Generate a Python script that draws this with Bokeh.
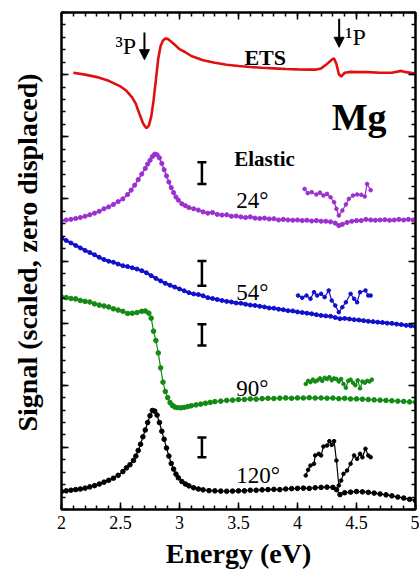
from bokeh.plotting import figure
from bokeh.layouts import row
from bokeh.models import (ColumnDataSource, LinearAxis, SingleIntervalTicker, Label, Title,
                          Arrow, NormalHead, Whisker, TeeHead)
from bokeh.embed import file_html
from bokeh.resources import INLINE

# ---------------- data ----------------
x_tick_values = [2, 2.5, 3, 3.5, 4, 4.5, 5]
x_tick_labels = ["2", "2.5", "3", "3.5", "4", "4.5", "5"]
y_title_parts = ["Signal (scaled,", "zero displaced)"]

ets_energy = [2.10, 2.20, 2.30, 2.40, 2.50, 2.55, 2.60, 2.63, 2.66, 2.69, 2.71, 2.72, 2.74,
              2.76, 2.78, 2.80, 2.82, 2.84, 2.86, 2.88, 2.90, 2.93, 2.96, 3.00, 3.05, 3.10,
              3.20, 3.30, 3.40, 3.50, 3.60, 3.70, 3.80, 3.90, 4.00, 4.10, 4.15, 4.20, 4.25,
              4.29, 4.31, 4.33, 4.35, 4.37, 4.40, 4.45, 4.50, 4.60, 4.70, 4.80, 4.88, 4.92, 5.00]
ets_signal = [35.15, 35.0, 34.8, 34.5, 34.05, 33.7, 33.15, 32.65, 31.85, 31.1, 30.8, 30.7, 30.9,
              31.6, 32.9, 34.6, 36.3, 37.3, 37.75, 37.9, 37.88, 37.65, 37.4, 37.05, 36.8, 36.5,
              36.15, 35.95, 35.8, 35.7, 35.62, 35.55, 35.5, 35.45, 35.42, 35.4, 35.4, 35.5, 35.85,
              36.2, 36.3, 35.85, 35.05, 34.85, 35.15, 35.22, 35.2, 35.2, 35.15, 35.15, 35.3, 35.2, 35.08]

e24_energy = [2.00, 2.04, 2.08, 2.12, 2.16, 2.20, 2.24, 2.28, 2.32, 2.36, 2.40, 2.44, 2.48, 2.52,
              2.56, 2.59, 2.62, 2.65, 2.68, 2.71, 2.73, 2.75, 2.77, 2.79, 2.81, 2.83, 2.85, 2.87,
              2.89, 2.91, 2.93, 2.95, 2.97, 2.99, 3.02, 3.05, 3.08, 3.12, 3.16, 3.20, 3.24, 3.28,
              3.32, 3.36, 3.40, 3.44, 3.48, 3.52, 3.56, 3.60, 3.64, 3.68, 3.72, 3.76, 3.80, 3.84,
              3.88, 3.92, 3.96, 4.00, 4.04, 4.08, 4.12, 4.16, 4.20, 4.24, 4.28, 4.32, 4.35, 4.38,
              4.42, 4.46, 4.50, 4.54, 4.58, 4.62, 4.66, 4.70, 4.74, 4.78, 4.82, 4.86, 4.90, 4.94,
              4.98, 5.00]
e24_signal = [23.25, 23.3, 23.35, 23.42, 23.5, 23.6, 23.72, 23.85, 24.0, 24.2, 24.35, 24.55, 24.78, 25.0,
              25.35, 25.7, 26.1, 26.55, 27.0, 27.45, 27.8, 28.1, 28.4, 28.6, 28.55, 28.3, 27.85, 27.35,
              26.85, 26.35, 25.9, 25.5, 25.15, 24.9, 24.6, 24.45, 24.3, 24.2, 24.1, 23.95, 23.85, 23.9,
              23.75, 23.7, 23.72, 23.6, 23.62, 23.55, 23.5, 23.55, 23.45, 23.42, 23.45, 23.38, 23.4, 23.3,
              23.35, 23.3, 23.28, 23.3, 23.25, 23.28, 23.22, 23.25, 23.2, 23.2, 23.15, 23.05, 22.85, 22.95,
              23.1, 23.2, 23.25, 23.25, 23.35, 23.3, 23.28, 23.3, 23.32, 23.28, 23.3, 23.35, 23.3, 23.35,
              23.3, 23.28]
e24_zoom_energy = [4.06, 4.087, 4.12, 4.16, 4.19, 4.22, 4.25, 4.28, 4.31, 4.33, 4.35, 4.38, 4.41,
                   4.435, 4.47, 4.505, 4.54, 4.57, 4.59, 4.62]
e24_zoom_signal = [25.8, 25.46, 25.54, 25.35, 25.5, 25.27, 25.4, 25.13, 24.73, 24.2, 23.66, 24.06, 24.55,
                   25.0, 25.27, 25.35, 25.33, 25.19, 26.2, 25.7]

e54_energy = [2.00, 2.04, 2.08, 2.12, 2.16, 2.20, 2.24, 2.28, 2.32, 2.36, 2.40, 2.44, 2.48, 2.52,
              2.56, 2.60, 2.64, 2.68, 2.72, 2.76, 2.80, 2.84, 2.88, 2.92, 2.96, 3.00, 3.04, 3.08,
              3.12, 3.16, 3.20, 3.24, 3.28, 3.32, 3.36, 3.40, 3.44, 3.48, 3.52, 3.56, 3.60, 3.64,
              3.68, 3.72, 3.76, 3.80, 3.84, 3.88, 3.92, 3.96, 4.00, 4.04, 4.08, 4.12, 4.16, 4.20,
              4.24, 4.28, 4.32, 4.36, 4.40, 4.44, 4.48, 4.52, 4.56, 4.60, 4.64, 4.68, 4.72, 4.76,
              4.80, 4.84, 4.88, 4.92, 4.96, 5.00]
e54_signal = [21.85, 21.65, 21.45, 21.25, 21.05, 20.85, 20.68, 20.5, 20.3, 20.12, 19.98, 19.9, 19.75, 19.62,
              19.55, 19.45, 19.35, 19.22, 19.05, 18.82, 18.6, 18.4, 18.2, 18.05, 17.9, 17.75, 17.6, 17.45,
              17.35, 17.3, 17.2, 17.05, 16.98, 16.9, 16.82, 16.75, 16.7, 16.62, 16.6, 16.52, 16.45, 16.42,
              16.35, 16.3, 16.22, 16.2, 16.12, 16.08, 16.0, 15.98, 15.9, 15.85, 15.8, 15.75, 15.68, 15.62,
              15.58, 15.55, 15.45, 15.35, 15.38, 15.33, 15.28, 15.25, 15.2, 15.15, 15.12, 15.08, 15.05, 15.0,
              14.98, 14.92, 14.88, 14.82, 14.78, 14.72]
e54_zoom_energy = [4.005, 4.04, 4.076, 4.11, 4.14, 4.167, 4.20, 4.23, 4.265, 4.29, 4.32, 4.35, 4.38,
                   4.41, 4.45, 4.48, 4.505, 4.53, 4.576, 4.60, 4.62]
e54_zoom_signal = [17.22, 17.04, 17.22, 16.96, 17.49, 17.22, 17.36, 17.09, 17.63, 16.82, 16.42, 15.88, 16.28,
                   16.68, 17.36, 16.96, 16.68, 17.49, 17.63, 17.22, 17.22]

e90_energy = [2.00, 2.04, 2.08, 2.12, 2.16, 2.20, 2.24, 2.28, 2.32, 2.36, 2.40, 2.44, 2.48, 2.52,
              2.56, 2.60, 2.64, 2.68, 2.71, 2.74, 2.76, 2.78, 2.80, 2.82, 2.84, 2.86, 2.88, 2.90,
              2.92, 2.94, 2.96, 2.98, 3.01, 3.04, 3.07, 3.10, 3.14, 3.18, 3.22, 3.26, 3.30, 3.35,
              3.40, 3.45, 3.50, 3.55, 3.60, 3.65, 3.70, 3.75, 3.80, 3.85, 3.90, 3.95, 4.00, 4.05,
              4.10, 4.15, 4.20, 4.25, 4.30, 4.35, 4.40, 4.45, 4.50, 4.55, 4.60, 4.65, 4.70, 4.75,
              4.80, 4.85, 4.90, 4.95, 5.00]
e90_signal = [17.1, 17.05, 16.98, 16.95, 16.82, 16.75, 16.7, 16.55, 16.45, 16.38, 16.3, 16.15, 16.05, 15.95,
              15.78, 15.8, 15.85, 15.95, 15.98, 15.8, 15.4, 14.35, 13.6, 12.6, 11.4, 10.25, 9.5, 9.0,
              8.6, 8.38, 8.25, 8.2, 8.18, 8.22, 8.28, 8.35, 8.42, 8.48, 8.55, 8.62, 8.68, 8.72,
              8.78, 8.8, 8.85, 8.86, 8.9, 8.88, 8.92, 8.95, 8.93, 8.96, 8.98, 8.95, 8.98, 8.97,
              9.0, 8.97, 8.98, 8.96, 8.97, 8.92, 8.95, 8.9, 8.9, 8.88, 8.85, 8.82, 8.8, 8.78,
              8.75, 8.72, 8.7, 8.66, 8.64]
e90_zoom_energy = [4.07, 4.09, 4.11, 4.13, 4.15, 4.17, 4.19, 4.21, 4.23, 4.25, 4.27, 4.29, 4.31, 4.33,
                   4.35, 4.37, 4.39, 4.41, 4.43, 4.45, 4.47, 4.49, 4.51, 4.53, 4.55, 4.57, 4.59, 4.61, 4.63]
e90_zoom_signal = [10.1, 10.35, 10.25, 10.45, 10.3, 10.4, 10.55, 10.35, 10.6, 10.5, 10.65, 10.4, 10.55, 10.5,
                   10.3, 10.5, 10.1, 9.8, 10.35, 10.45, 10.2, 10.0, 10.4, 9.75, 10.3, 10.2, 10.35, 10.3, 10.45]

e120_energy = [2.00, 2.04, 2.08, 2.12, 2.16, 2.20, 2.24, 2.28, 2.32, 2.36, 2.40, 2.44, 2.48, 2.52,
               2.55, 2.58, 2.61, 2.63, 2.65, 2.67, 2.69, 2.71, 2.73, 2.75, 2.77, 2.79, 2.81, 2.83,
               2.85, 2.87, 2.89, 2.91, 2.93, 2.95, 2.97, 2.99, 3.02, 3.05, 3.08, 3.12, 3.16, 3.20,
               3.25, 3.30, 3.35, 3.40, 3.45, 3.50, 3.55, 3.60, 3.65, 3.70, 3.75, 3.80, 3.85, 3.90,
               3.95, 4.00, 4.05, 4.10, 4.15, 4.20, 4.25, 4.30, 4.33, 4.36, 4.40, 4.45, 4.50, 4.55,
               4.60, 4.65, 4.70, 4.75, 4.80, 4.85, 4.90, 4.95, 5.00]
e120_signal = [1.45, 1.5, 1.55, 1.6, 1.65, 1.72, 1.82, 1.92, 2.05, 2.2, 2.35, 2.52, 2.75, 3.05,
               3.35, 3.6, 3.95, 4.3, 4.75, 5.25, 5.85, 6.4, 7.0, 7.55, 7.97, 7.92, 7.6, 7.0,
               6.3, 5.65, 4.95, 4.3, 3.7, 3.25, 2.85, 2.55, 2.25, 2.05, 1.9, 1.75, 1.65, 1.58,
               1.52, 1.5, 1.48, 1.47, 1.48, 1.5, 1.5, 1.55, 1.55, 1.58, 1.6, 1.62, 1.6, 1.65,
               1.68, 1.7, 1.72, 1.7, 1.75, 1.78, 1.8, 1.78, 1.6, 1.2, 1.35, 1.4, 1.45, 1.42,
               1.38, 1.32, 1.25, 1.18, 1.1, 1.0, 0.92, 0.82, 0.72]
e120_zoom_energy = [4.07, 4.09, 4.11, 4.14, 4.15, 4.18, 4.20, 4.22, 4.25, 4.27, 4.29, 4.31, 4.33, 4.35,
                    4.37, 4.39, 4.42, 4.45, 4.48, 4.505, 4.53, 4.55, 4.576, 4.60, 4.62]
e120_zoom_signal = [2.74, 3.19, 3.54, 3.68, 4.35, 4.48, 4.35, 5.07, 5.15, 5.5, 5.2, 5.5, 3.94, 1.93,
                    2.33, 2.87, 3.14, 3.68, 4.35, 4.08, 4.48, 4.2, 4.89, 4.35, 4.21]

errbar_energy = [3.19, 3.19, 3.19, 3.19]
errbar_low = [26.2, 18.0, 13.2, 4.2]
errbar_high = [27.95, 20.0, 14.9, 5.8]

# ---------------- layout sizes ----------------
SERIF = "Liberation Serif"
TOTAL_W, TOTAL_H = 419, 573
STRIP_W = 44          # narrow strip that carries the rotated y-axis title
FRAME_TOP, FRAME_BOTTOM = 12, 509   # frame edges in page pixels (row aligns both frames)

# strip with the y-axis title (two pieces laid end to end on one line)
q = figure(width=STRIP_W, height=TOTAL_H, x_range=(0, STRIP_W), y_range=(FRAME_BOTTOM, FRAME_TOP),
           output_backend="svg", toolbar_location=None,
           min_border_left=0, min_border_right=0, min_border_top=FRAME_TOP,
           min_border_bottom=TOTAL_H - FRAME_BOTTOM)
q.axis.visible = False
q.xgrid.visible = False
q.ygrid.visible = False
q.outline_line_color = None
q.background_fill_color = "white"
q.border_fill_color = "white"
piece_start = [431, 252]   # page y where each piece starts (text reads upward)
for part, y0 in zip(y_title_parts, piece_start):
    q.add_layout(Label(x=27, y=y0, text=part,
                       text_font=SERIF, text_font_size="28px", text_font_style="bold",
                       text_color="black", text_align="left", text_baseline="middle",
                       angle=90, angle_units="deg"))

# main plot
p = figure(width=TOTAL_W - STRIP_W, height=TOTAL_H, x_range=(2, 5), y_range=(0, 40),
           output_backend="svg", toolbar_location=None,
           min_border_left=61 - STRIP_W, min_border_right=4, min_border_top=FRAME_TOP,
           min_border_bottom=TOTAL_H - FRAME_BOTTOM)
p.background_fill_color = "white"
p.border_fill_color = "white"
p.outline_line_color = "black"
p.outline_line_width = 2
p.xgrid.visible = False
p.ygrid.visible = False


def style_axis(ax, hide_labels=True):
    ax.axis_line_color = "black"
    ax.axis_line_width = 2
    ax.major_tick_in = 7
    ax.major_tick_out = 0
    ax.minor_tick_in = 4
    ax.minor_tick_out = 0
    ax.major_tick_line_width = 1.5
    ax.minor_tick_line_width = 1.5
    ax.major_tick_line_color = "black"
    ax.minor_tick_line_color = "black"
    if hide_labels:
        ax.major_label_text_font_size = "0px"
        ax.major_label_text_color = None
        ax.major_label_standoff = 0


xt = SingleIntervalTicker(interval=0.5, num_minor_ticks=5)
yt = SingleIntervalTicker(interval=5, num_minor_ticks=5)

xa = p.xaxis[0]
xa.ticker = xt
style_axis(xa, hide_labels=False)
xa.major_label_overrides = {float(v): s for v, s in zip(x_tick_values, x_tick_labels)}
xa.major_label_text_font = SERIF
xa.major_label_text_font_size = "18px"
xa.major_label_text_color = "black"
xa.major_label_standoff = 6

ya = p.yaxis[0]
ya.ticker = yt
style_axis(ya)

for loc in ("above", "right"):
    ax = LinearAxis(ticker=(xt if loc == "above" else yt))
    style_axis(ax)
    p.add_layout(ax, loc)

# x-axis title
p.add_layout(Title(text="Energy (eV)", align="center", text_font=SERIF, text_font_size="28px",
                   text_font_style="bold", text_color="black", standoff=8), "below")

# ---------------- series ----------------
RED = "#e01010"
PURPLE = "#9a30d0"
BLUE = "#1010cc"
GREEN = "#138a13"
BLACK = "#000000"

p.line(ets_energy, ets_signal, color=RED, line_width=2.6)

series = [
    (e24_energy, e24_signal, PURPLE, 1.5, 4.2),
    (e54_energy, e54_signal, BLUE, 2.5, 4.0),
    (e90_energy, e90_signal, GREEN, 1.2, 4.6),
    (e120_energy, e120_signal, BLACK, 1.2, 4.6),
]
for xs, ys, c, lw, ms in series:
    p.line(xs, ys, color=c, line_width=lw)
    p.scatter(xs, ys, color=c, size=ms)

insets = [
    (e24_zoom_energy, e24_zoom_signal, PURPLE),
    (e54_zoom_energy, e54_zoom_signal, BLUE),
    (e90_zoom_energy, e90_zoom_signal, GREEN),
    (e120_zoom_energy, e120_zoom_signal, BLACK),
]
for xs, ys, c in insets:
    p.line(xs, ys, color=c, line_width=1.2)
    p.scatter(xs, ys, color=c, size=3.6)

# error bars
eb_src = ColumnDataSource(dict(x=errbar_energy, lo=errbar_low, hi=errbar_high))
wh = Whisker(source=eb_src, base="x", lower="lo", upper="hi", dimension="height",
             line_color="black", line_width=2.5,
             upper_head=TeeHead(size=9, line_width=2.5, line_color="black"),
             lower_head=TeeHead(size=9, line_width=2.5, line_color="black"))
p.add_layout(wh)

# ---------------- annotations ----------------
def lab(x, y, text, size, bold=False, align="left"):
    p.add_layout(Label(x=x, y=y, text=text, text_font=SERIF, text_font_size=size,
                       text_font_style=("bold" if bold else "normal"), text_color="black",
                       text_align=align, text_baseline="alphabetic"))

lab(2.458, 37.3, "\u00b3P", "24px")
lab(4.405, 38.0, "\u00b9P", "24px")
lab(3.726, 36.35, "ETS", "22px", bold=True, align="center")
lab(4.29, 31.6, "Mg", "38px", bold=True)
lab(3.72, 28.2, "Elastic", "21px", bold=True, align="center")
lab(3.48, 24.9, "24\u00b0", "23px")
lab(3.48, 17.5, "54\u00b0", "23px")
lab(3.48, 9.75, "90\u00b0", "23px")
lab(3.48, 2.7, "120\u00b0", "23px")

for ax_, y0, y1 in ((2.703, 38.4, 36.2), (4.353, 39.5, 37.2)):
    p.add_layout(Arrow(x_start=ax_, y_start=y0, x_end=ax_, y_end=y1, line_width=2, line_color="black",
                       end=NormalHead(size=10, line_color="black", fill_color="black", line_width=1)))

layout = row(q, p, spacing=0)
open("out.html", "w").write(file_html(layout, INLINE))
